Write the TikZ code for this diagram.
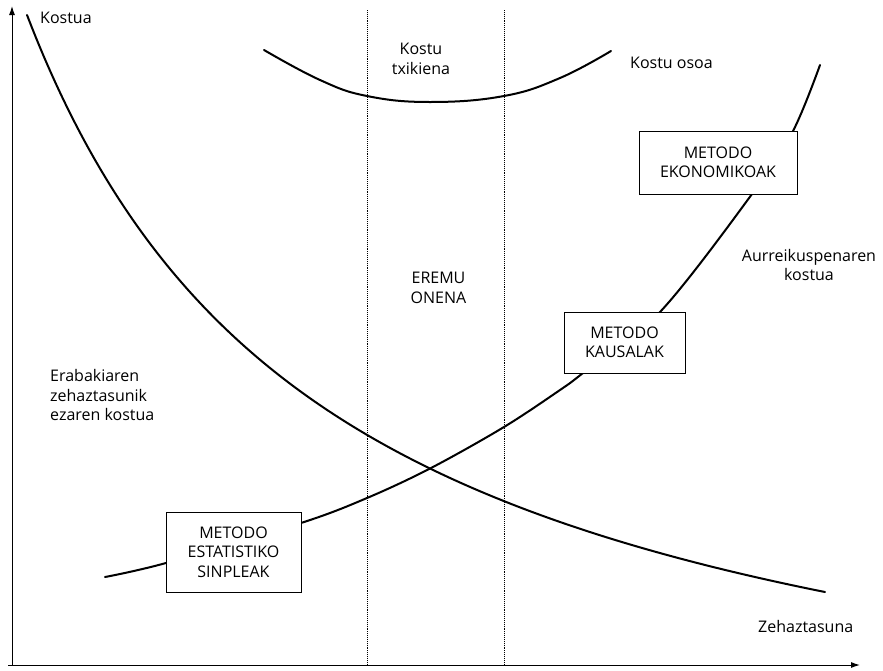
\documentclass[tikz,border=0pt]{standalone}
\usepackage{fontspec}
\setmainfont{Open Sans}
\usetikzlibrary{arrows.meta}
\begin{document}
\begin{tikzpicture}[x=1pt,y=-1pt,
  txt/.style={font=\fontsize{16}{19.5}\selectfont, inner sep=0pt},
  curve/.style={line width=2pt, line cap=round},
  method/.style={draw, line width=1pt, fill=white, align=center, inner sep=0pt,
    font=\fontsize{16}{19.5}\selectfont},
  axis/.style={line width=1pt, -{Latex[length=9pt,width=6pt]}},
  zone/.style={densely dotted, line width=0.9pt}]
\useasboundingbox (0,0) rectangle (883,670);

% axes
\coordinate (o) at (12,665);
\coordinate (ytop) at (12,6);
\coordinate (xstart) at (8,665);
\coordinate (xend) at (860,665);
\draw[axis] (o) -- (ytop);
\draw[axis] (xstart) -- (xend);

% optimum zone boundaries
\coordinate (z1t) at (367,10); \coordinate (z1b) at (367,665);
\coordinate (z2t) at (504,10); \coordinate (z2b) at (504,665);
\draw[zone] (z1t) -- (z1b);
\draw[zone] (z2t) -- (z2b);

% cost of imprecision (decreasing, hyperbola)
\draw[curve] plot[domain=27:825, samples=120, smooth]
  (\x,{814-2453/((\x+280)/100)});

% forecasting cost (increasing)
\draw[curve] plot[smooth, tension=0.55] coordinates {(105,577) (166,563) (301,523) (367,498) (431,468) (504,427) (560,390) (583,373) (660,312) (752,194) (793,131) (820,65)};

% total cost
\draw[curve] plot[smooth, tension=0.7] coordinates {(264,50) (320,80) (367,96) (430,102) (504,96) (560,78) (611,51)};

% method boxes
\node[method, minimum width=135pt, minimum height=80pt] (simple) at (233.5,552) {METODO\\ESTATISTIKO\\SINPLEAK};
\node[method, minimum width=121pt, minimum height=61pt] (causal) at (624.5,342.5) {METODO\\KAUSALAK};
\node[method, minimum width=158pt, minimum height=63pt] (econ) at (718,162.5) {METODO\\EKONOMIKOAK};

% labels
\node[txt, anchor=west] (ly) at (40,18) {Kostua};
\node[txt, align=center] (lmin) at (421,59) {Kostu\\txikiena};
\node[txt, anchor=west] (ltot) at (630,63) {Kostu osoa};
\node[txt, align=center] (lfor) at (809,265) {Aurreikuspenaren\\kostua};
\node[txt, align=center] (lzone) at (438.5,288) {EREMU\\ONENA};
\node[txt, anchor=west, align=left] (lerr) at (50,395) {Erabakiaren\\zehaztasunik\\ezaren kostua};
\node[txt, anchor=west] (lx) at (758,626) {Zehaztasuna};
\end{tikzpicture}
\end{document}
